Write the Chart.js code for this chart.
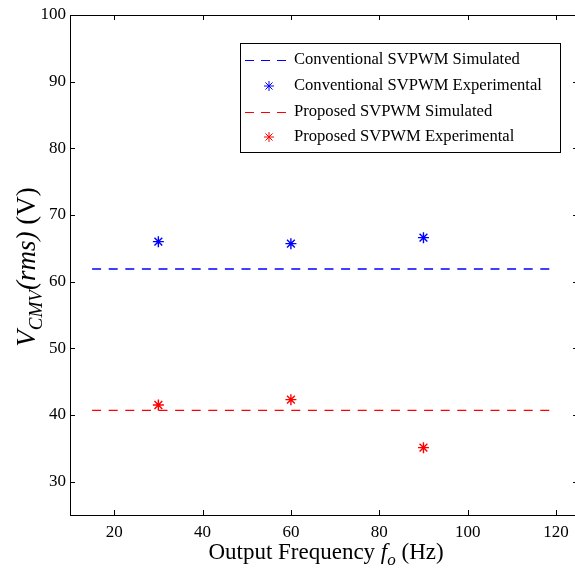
<!DOCTYPE html>
<html>
<head>
<meta charset="utf-8">
<script src="https://cdn.jsdelivr.net/npm/chart.js@4/dist/chart.umd.min.js"></script>
<style>
  html, body { margin: 0; padding: 0; background: #fff; overflow: hidden; }
  canvas { display: block; }
</style>
</head>
<body>
<canvas id="cmv" width="585" height="574"></canvas>
<script>
// output frequency (Hz) and common-mode voltage (V rms)
const simFreq = [15, 120];
const conventionalSim = [61.9, 61.9];
const proposedSim = [40.7, 40.7];
const expFreq = [30, 60, 90];
const conventionalExp = [66.0, 65.7, 66.6];
const proposedExp = [41.5, 42.3, 35.1];

const xTicks = [20, 40, 60, 80, 100, 120];
const yTicks = [30, 40, 50, 60, 70, 80, 90, 100];

const SERIF = '"Liberation Serif", "Times New Roman", serif';
const BLUE = '#0000ff';
const RED = '#ff0000';

const pairs = (xs, ys) => xs.map((x, i) => ({ x, y: ys[i] }));

// draw a run of text pieces (some italic / subscripted), centred on cx
function drawRich(ctx, parts, cx, cy, size) {
  const fontOf = p => `${p.italic ? 'italic ' : ''}${p.sub ? Math.round(size * 0.72) : size}px ${SERIF}`;
  let total = 0;
  for (const p of parts) { ctx.font = fontOf(p); total += ctx.measureText(p.text).width; }
  let x = cx - total / 2;
  ctx.textBaseline = 'alphabetic';
  ctx.textAlign = 'left';
  for (const p of parts) {
    ctx.font = fontOf(p);
    ctx.fillText(p.text, x, cy + (p.sub ? size * 0.25 : 0));
    x += ctx.measureText(p.text).width;
  }
}

// box frame with inward ticks on all four sides, axis titles, boxed legend
const framePlugin = {
  id: 'frame',
  afterDraw(chart) {
    const { ctx, chartArea: a, scales: { x, y } } = chart;
    const tl = 5;
    ctx.save();
    ctx.strokeStyle = '#000';
    ctx.lineWidth = 1;
    ctx.strokeRect(Math.round(a.left) + 0.5, Math.round(a.top) + 0.5,
      Math.round(a.right - a.left), Math.round(a.bottom - a.top));
    ctx.beginPath();
    for (const v of xTicks) {
      const px = Math.round(x.getPixelForValue(v)) + 0.5;
      ctx.moveTo(px, a.bottom); ctx.lineTo(px, a.bottom - tl);
      ctx.moveTo(px, a.top); ctx.lineTo(px, a.top + tl);
    }
    for (const v of yTicks) {
      const py = Math.round(y.getPixelForValue(v)) + 0.5;
      ctx.moveTo(a.left, py); ctx.lineTo(a.left + tl, py);
      ctx.moveTo(a.right, py); ctx.lineTo(a.right - tl, py);
    }
    ctx.stroke();

    // axis titles
    ctx.fillStyle = '#000';
    drawRich(ctx, [
      { text: 'Output Frequency ' },
      { text: 'f', italic: true },
      { text: 'o', italic: true, sub: true },
      { text: ' (Hz)' }
    ], 326, 559, 23);
    ctx.save();
    ctx.translate(35, 267);
    ctx.rotate(-Math.PI / 2);
    drawRich(ctx, [
      { text: 'V', italic: true },
      { text: 'CMV', italic: true, sub: true },
      { text: '(rms)', italic: true },
      { text: ' (V)' }
    ], 0, 0, 27);
    ctx.restore();

    // legend
    const box = { left: 240.5, top: 43.5, w: 320, h: 109 };
    ctx.fillStyle = '#fff';
    ctx.fillRect(box.left, box.top, box.w, box.h);
    ctx.strokeRect(box.left, box.top, box.w, box.h);
    const rowY = [60, 86, 112, 137];
    chart.data.datasets.forEach((ds, i) => {
      const yy = rowY[i];
      if (ds.showLine) {
        ctx.save();
        ctx.strokeStyle = ds.borderColor;
        ctx.lineWidth = 1.2;
        ctx.setLineDash([9, 7]);
        ctx.beginPath();
        ctx.moveTo(245, yy + 0.5); ctx.lineTo(291, yy + 0.5);
        ctx.stroke();
        ctx.restore();
      } else {
        ctx.strokeStyle = ds.borderColor;
        Chart.helpers.drawPoint(ctx, { pointStyle: 'star', radius: 5, rotation: 0, borderWidth: 1.2 }, 269, yy);
      }
      ctx.fillStyle = '#000';
      ctx.font = `16.6px ${SERIF}`;
      ctx.textAlign = 'left';
      ctx.textBaseline = 'middle';
      ctx.fillText(ds.label, 294, yy);
    });
    ctx.restore();
  }
};

new Chart(document.getElementById('cmv'), {
  type: 'scatter',
  data: {
    datasets: [
      {
        label: 'Conventional SVPWM Simulated',
        data: pairs(simFreq, conventionalSim),
        showLine: true,
        borderColor: BLUE,
        borderWidth: 1.3,
        borderDash: [9, 7.6],
        pointRadius: 0
      },
      {
        label: 'Conventional SVPWM Experimental',
        data: pairs(expFreq, conventionalExp),
        pointStyle: 'star',
        pointRadius: 5.5,
        borderColor: BLUE,
        backgroundColor: BLUE,
        borderWidth: 1.4
      },
      {
        label: 'Proposed SVPWM Simulated',
        data: pairs(simFreq, proposedSim),
        showLine: true,
        borderColor: RED,
        borderWidth: 1.3,
        borderDash: [9, 7.6],
        pointRadius: 0
      },
      {
        label: 'Proposed SVPWM Experimental',
        data: pairs(expFreq, proposedExp),
        pointStyle: 'star',
        pointRadius: 5.5,
        borderColor: RED,
        backgroundColor: RED,
        borderWidth: 1.4
      }
    ]
  },
  options: {
    responsive: false,
    animation: false,
    layout: { padding: { top: 15, right: 5, left: 0, bottom: 0 } },
    plugins: { legend: { display: false }, tooltip: { enabled: false } },
    scales: {
      x: {
        type: 'linear',
        min: 10,
        max: 125,
        grid: { display: false, drawTicks: false },
        border: { display: false },
        afterBuildTicks: s => { s.ticks = xTicks.map(v => ({ value: v })); },
        afterFit: s => { s.height = 59; },
        ticks: { color: '#000', padding: 7, font: { family: SERIF, size: 17 } }
      },
      y: {
        type: 'linear',
        min: 25,
        max: 100,
        grid: { display: false, drawTicks: false },
        border: { display: false },
        afterBuildTicks: s => { s.ticks = yTicks.map(v => ({ value: v })); },
        afterFit: s => { s.width = 70; },
        ticks: { color: '#000', padding: 4, font: { family: SERIF, size: 17 } }
      }
    }
  },
  plugins: [framePlugin]
});
</script>
</body>
</html>
